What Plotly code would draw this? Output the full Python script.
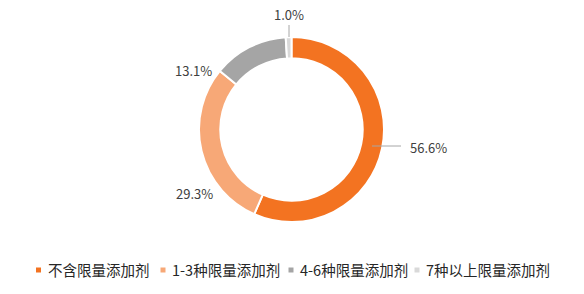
import plotly.graph_objects as go

categories = ["不含限量添加剂", "1-3种限量添加剂", "4-6种限量添加剂", "7种以上限量添加剂"]
values = [56.6, 29.3, 13.1, 1.0]
colors = ["#F37321", "#F7A877", "#A5A5A5", "#D9D9D9"]

W, H = 584, 294
FONT = "Noto Sans CJK SC, Open Sans, sans-serif"
TXT = "#404040"

def px(x):
    return x / W

def py(y):
    return 1 - y / H

fig = go.Figure()
fig.add_trace(go.Pie(
    labels=categories, values=values, sort=False, direction="clockwise", rotation=0,
    hole=0.77, marker=dict(colors=colors, line=dict(color="white", width=2)),
    textinfo="none", hoverinfo="label+percent", showlegend=False,
    domain=dict(x=[px(199), px(384)], y=[py(222), py(37)]),
))

# data labels (text derived from values; placement in pixels)
label_pos = [(428, 147), (194, 193), (193, 70), (289, 14)]
for v, (lx, ly) in zip(values, label_pos):
    fig.add_annotation(x=px(lx), y=py(ly), xref="paper", yref="paper",
                       xanchor="center", yanchor="middle",
                       text=f"{v:.1f}%", showarrow=False,
                       font=dict(size=13, color=TXT, family=FONT))

# leader lines
leaders = [((372, 146), (401, 146)), ((289, 37), (289, 25))]
for (x0, y0), (x1, y1) in leaders:
    fig.add_shape(type="line", xref="paper", yref="paper",
                  x0=px(x0), y0=py(y0), x1=px(x1), y1=py(y1),
                  line=dict(color="#A6A6A6", width=1))

# legend (symbol x, text x) in pixels
legend_x = [(38.5, 46), (163, 170), (291, 298), (417, 424)]
LY = 270
for c, col, (sx, tx) in zip(categories, colors, legend_x):
    fig.add_shape(type="rect", xref="paper", yref="paper",
                  x0=px(sx - 2.5), x1=px(sx + 2.5), y0=py(LY + 2.5), y1=py(LY - 2.5),
                  fillcolor=col, line=dict(width=0))
    fig.add_annotation(x=px(tx), y=py(LY - 1), xref="paper", yref="paper",
                       xanchor="left", yanchor="middle", text=c, showarrow=False,
                       font=dict(size=14.5, color="#262626", family=FONT))

fig.update_layout(
    width=W, height=H, margin=dict(l=0, r=0, t=0, b=0),
    paper_bgcolor="white", plot_bgcolor="white",
    font=dict(family=FONT, color=TXT),
    showlegend=False,
)

fig.write_html("out.html")
